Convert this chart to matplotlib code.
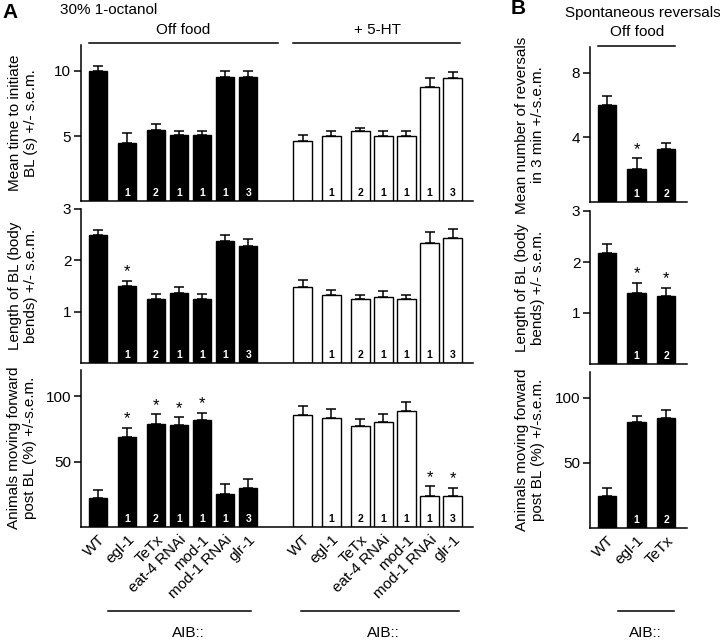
import numpy as np
import matplotlib
matplotlib.use('Agg')
import matplotlib.pyplot as plt
from matplotlib.lines import Line2D

plt.rcParams['font.family'] = ['Liberation Sans', 'DejaVu Sans']

# ---- data, panel A ----
strains = ['WT', 'egl-1', 'TeTx', 'eat-4 RNAi', 'mod-1', 'mod-1 RNAi', 'glr-1']
n_lines = ['', '1', '2', '1', '1', '1', '3']

time_off = [10.0, 4.5, 5.5, 5.05, 5.05, 9.55, 9.55]
time_off_err = [0.4, 0.7, 0.45, 0.3, 0.3, 0.45, 0.45]
time_5ht = [4.6, 5.0, 5.35, 5.0, 5.0, 8.8, 9.5]
time_5ht_err = [0.45, 0.4, 0.28, 0.4, 0.4, 0.65, 0.45]

bl_off = [2.5, 1.5, 1.25, 1.37, 1.25, 2.38, 2.27]
bl_off_err = [0.1, 0.1, 0.09, 0.12, 0.09, 0.12, 0.14]
bl_5ht = [1.48, 1.33, 1.24, 1.28, 1.24, 2.33, 2.44]
bl_5ht_err = [0.14, 0.09, 0.09, 0.13, 0.09, 0.23, 0.17]

fwd_off = [22.5, 68.5, 78.5, 78, 81.5, 25.5, 29.5]
fwd_off_err = [6, 7.5, 7.5, 6, 6, 7, 7.5]
fwd_5ht = [85.5, 83.5, 77, 80.5, 88.5, 24, 24]
fwd_5ht_err = [7, 7, 5.5, 5.5, 7, 7, 6]

# significance marks (True = asterisk)
bl_off_sig = [False, True, False, False, False, False, False]
fwd_off_sig = [False, True, True, True, True, False, False]
fwd_5ht_sig = [False, False, False, False, False, True, True]
no_sig = [False] * 7

# ---- data, panel B ----
strains_b = ['WT', 'egl-1', 'TeTx']
n_lines_b = ['', '1', '2']
rev_b = [6.0, 2.05, 3.3]
rev_b_err = [0.55, 0.65, 0.35]
rev_b_sig = [False, True, False]
bl_b = [2.18, 1.4, 1.34]
bl_b_err = [0.18, 0.19, 0.15]
bl_b_sig = [False, True, True]
fwd_b = [24.5, 81.5, 85]
fwd_b_err = [6, 5, 5.5]
fwd_b_sig = [False, False, False]

W, H = 720, 640
fig = plt.figure(figsize=(W / 100, H / 100), dpi=100)


def fx(px):
    return px / W


def fy(py):
    return 1 - py / H


def axes_px(left, right, top, bottom):
    return fig.add_axes([fx(left), fy(bottom), (right - left) / W, (bottom - top) / H])


def style(ax, ylim, yticks, xlim):
    ax.set_xlim(*xlim)
    ax.set_ylim(*ylim)
    ax.set_yticks(yticks)
    for s in ['top', 'right']:
        ax.spines[s].set_visible(False)
    for s in ['left', 'bottom']:
        ax.spines[s].set_linewidth(1.1)
    ax.tick_params(axis='y', length=5, width=1.1, labelsize=11, pad=2)
    ax.tick_params(axis='x', length=0)
    ax.set_xticks([])


def draw(ax, x, vals, errs, sig, nums, dark, width=0.8):
    fc = 'black' if dark else 'white'
    ax.bar(x, vals, width=width, color=fc, edgecolor='black', linewidth=1, zorder=2)
    ax.errorbar(x, vals, yerr=[np.zeros(len(vals)), errs], fmt='none', ecolor='black',
                elinewidth=1.1, capsize=3.5, capthick=1.1, zorder=1)
    for xi, v, e, s, n in zip(x, vals, errs, sig, nums):
        if s:
            ax.annotate('*', xy=(xi, v + e), xytext=(0, 1), textcoords='offset points',
                        ha='center', va='bottom', fontsize=12)
        if n:
            ax.annotate(n, xy=(xi, 0), xycoords=('data', 'axes fraction'), xytext=(0, 6),
                        textcoords='offset points', ha='center', va='center', fontsize=7.5,
                        fontweight='bold', color='white' if dark else 'black')


xa = np.array([0, 1.25, 2.5, 3.5, 4.5, 5.5, 6.5])
xw = xa + 8.85
xlim_a = (-0.74, 16.23)

# panel A
ax1 = axes_px(81, 473, 45, 201)
draw(ax1, xa, time_off, time_off_err, no_sig, n_lines, True)
draw(ax1, xw, time_5ht, time_5ht_err, no_sig, n_lines, False)
style(ax1, (0, 12), [5, 10], xlim_a)

ax2 = axes_px(81, 473, 209, 363)
draw(ax2, xa, bl_off, bl_off_err, bl_off_sig, n_lines, True)
draw(ax2, xw, bl_5ht, bl_5ht_err, no_sig, n_lines, False)
style(ax2, (0, 3), [1, 2, 3], xlim_a)

ax3 = axes_px(81, 473, 370, 527)
draw(ax3, xa, fwd_off, fwd_off_err, fwd_off_sig, n_lines, True)
draw(ax3, xw, fwd_5ht, fwd_5ht_err, fwd_5ht_sig, n_lines, False)
style(ax3, (0, 120), [50, 100], xlim_a)
ax3.set_xticks(np.concatenate([xa, xw]))
ax3.set_xticklabels(strains + strains, rotation=45, ha='right', rotation_mode='anchor', fontsize=11)
ax3.tick_params(axis='x', pad=4)

# panel B
xb = np.array([0, 1, 2])
xlim_b = (-0.58, 2.71)
bx1 = axes_px(590, 687, 47, 202)
draw(bx1, xb, rev_b, rev_b_err, rev_b_sig, n_lines_b, True, width=0.63)
style(bx1, (0, 9.6), [4, 8], xlim_b)

bx2 = axes_px(590, 687, 211, 364)
draw(bx2, xb, bl_b, bl_b_err, bl_b_sig, n_lines_b, True, width=0.63)
style(bx2, (0, 3), [1, 2, 3], xlim_b)

bx3 = axes_px(590, 687, 372, 528)
draw(bx3, xb, fwd_b, fwd_b_err, fwd_b_sig, n_lines_b, True, width=0.63)
style(bx3, (0, 120), [50, 100], xlim_b)
bx3.set_xticks(xb)
bx3.set_xticklabels(strains_b, rotation=45, ha='right', rotation_mode='anchor', fontsize=11)
bx3.tick_params(axis='x', pad=4)

# y labels
ylab_kw = dict(rotation=90, ha='center', va='center', fontsize=11, linespacing=1.2,
               multialignment='center')
fig.text(fx(23), fy(123), 'Mean time to initiate\nBL (s) +/- s.e.m.', **ylab_kw)
fig.text(fx(23), fy(286), 'Length of BL (body\nbends) +/- s.e.m.', **ylab_kw)
fig.text(fx(22), fy(448), 'Animals moving forward\npost BL (%) +/-s.e.m.', **ylab_kw)
fig.text(fx(530), fy(125), 'Mean number of reversals\nin 3 min +/-s.e.m.', **ylab_kw)
fig.text(fx(530), fy(288), 'Length of BL (body\nbends) +/- s.e.m.', **ylab_kw)
fig.text(fx(530), fy(450), 'Animals moving forward\npost BL (%) +/-s.e.m.', **ylab_kw)

# headers
fig.text(fx(2), fy(12), 'A', fontsize=15, fontweight='bold', va='center', ha='left')
fig.text(fx(60), fy(10), '30% 1-octanol', fontsize=11, va='center', ha='left')
fig.text(fx(183), fy(30), 'Off food', fontsize=11, va='center', ha='center')
fig.text(fx(377), fy(30), '+ 5-HT', fontsize=11, va='center', ha='center')
fig.text(fx(511), fy(9), 'B', fontsize=15, fontweight='bold', va='center', ha='left')
fig.text(fx(643), fy(13), 'Spontaneous reversals', fontsize=11, va='center', ha='center')
fig.text(fx(637), fy(32), 'Off food', fontsize=11, va='center', ha='center')


def hline(x0, x1, y):
    fig.add_artist(Line2D([fx(x0), fx(x1)], [fy(y), fy(y)], transform=fig.transFigure,
                          color='black', linewidth=1.1))


hline(89, 278, 43.3)
hline(293, 460, 43.3)
hline(598, 675, 45.7)

# AIB:: group lines
hline(107.7, 250.7, 610.7)
hline(301, 459, 610.7)
hline(617.7, 674.3, 611)
for cx in [188, 383, 645]:
    fig.text(fx(cx), fy(633), 'AIB::', fontsize=11, va='center', ha='center')

fig.savefig('out.png', dpi=100)
